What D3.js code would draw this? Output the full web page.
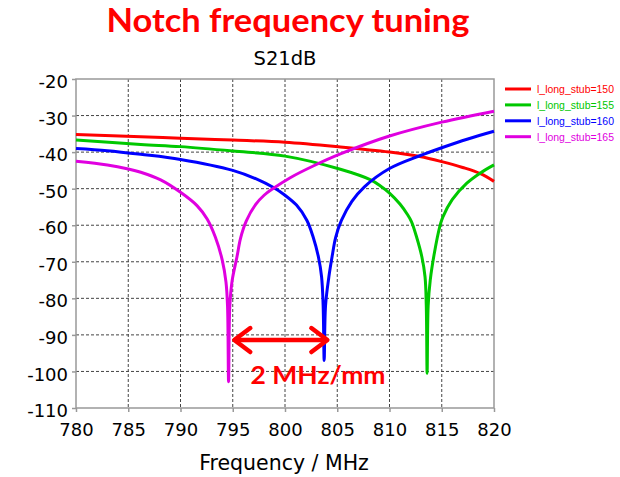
<!DOCTYPE html>
<html>
<head>
<meta charset="utf-8">
<script src="https://cdn.jsdelivr.net/npm/d3@7.9.0/dist/d3.min.js"></script>
<style>
  body { margin: 0; background: #fff; }
  svg { display: block; }
</style>
</head>
<body>
<svg id="chart" width="620" height="477"></svg>
<script>
// S21 in dB vs frequency (MHz)
const seriesNames = ['l_long_stub=150', 'l_long_stub=155', 'l_long_stub=160', 'l_long_stub=165'];
const seriesColors = ['#ff0000', '#00c800', '#0000ff', '#e000e0'];

const freq150 = [780, 786.2, 790, 795, 800, 805.3, 810, 812.9, 815, 817, 818.7, 820];
const s21_150 = [-35.2, -35.8, -36.2, -36.7, -37.3, -38.6, -40.0, -41.2, -42.6, -44.2, -45.9, -48.0];

const freq155 = [780, 786.2, 790, 795, 800, 805.3, 808.2, 809.1, 810, 811, 811.7, 812.1, 812.6, 813.1, 813.4, 813.52, 813.6, 813.7, 813.9, 814.3, 814.8, 815.1, 816.0, 817.4, 818.7, 820];
const s21_155 = [-36.7, -37.9, -38.5, -39.7, -41.1, -44.7, -47.6, -49.2, -51.2, -54.2, -57.0, -59.0, -63.3, -68.7, -74.1, -82.0, -100.5, -82.0, -75.0, -67.5, -60.5, -57.8, -53.0, -48.5, -45.7, -43.5];

const freq160 = [780, 783, 786.2, 790, 795, 797.3, 798.9, 800, 801.1, 802.1, 802.7, 803.2, 803.5, 803.65, 803.75, 803.88, 804.2, 804.5, 804.85, 805.4, 806.4, 807.6, 810, 812.9, 815, 817.5, 820];
const s21_160 = [-39.0, -39.6, -40.6, -42.0, -45.0, -47.4, -49.7, -51.8, -54.5, -58.7, -63.3, -68.7, -74.1, -82.0, -97.0, -82.0, -74.1, -68.7, -63.3, -58.7, -53.5, -49.5, -44.5, -41.0, -38.8, -36.4, -34.3];

const freq165 = [780, 783, 785, 786.2, 788.1, 790, 791.6, 792.55, 793.34, 794.0, 794.35, 794.5, 794.6, 794.72, 794.95, 795.4, 795.75, 796.3, 797.2, 798.0, 798.9, 800.5, 802.7, 805.3, 810, 815, 820];
const s21_165 = [-42.5, -43.5, -44.6, -45.5, -47.6, -51.0, -54.7, -58.3, -63.3, -69.6, -75.5, -82.0, -102.8, -82.0, -75.0, -68.7, -63.5, -58.8, -54.3, -51.8, -49.9, -47.0, -43.8, -40.5, -35.6, -31.8, -28.8];

const xTicks = [780, 785, 790, 795, 800, 805, 810, 815, 820];
const yTicks = [-110, -100, -90, -80, -70, -60, -50, -40, -30, -20];

// annotation: notch spacing arrow
const arrowFreqs = [795.05, 804.15];
const arrowLevel = -91.4;
const arrowLabel = '2 MHz/mm';

const series = [
  {freq: freq150, val: s21_150},
  {freq: freq155, val: s21_155},
  {freq: freq160, val: s21_160},
  {freq: freq165, val: s21_165}
];

const svg = d3.select('#chart');
const plotLeft = 76, plotRight = 494, plotTop = 79, plotBottom = 408;

const x = d3.scaleLinear().domain([780, 820]).range([plotLeft, plotRight]);
const y = d3.scaleLinear().domain([-110, -20]).range([plotBottom, plotTop]);

// grid
svg.append('g')
  .selectAll('line')
  .data(xTicks.slice(1, -1))
  .join('line')
  .attr('x1', d => x(d)).attr('x2', d => x(d))
  .attr('y1', plotTop).attr('y2', plotBottom)
  .attr('stroke', '#444').attr('stroke-width', 1)
  .attr('stroke-dasharray', '3,2');

svg.append('g')
  .selectAll('line')
  .data(yTicks.slice(1, -1))
  .join('line')
  .attr('x1', plotLeft).attr('x2', plotRight)
  .attr('y1', d => y(d)).attr('y2', d => y(d))
  .attr('stroke', '#444').attr('stroke-width', 1)
  .attr('stroke-dasharray', '3,2');

// frame
svg.append('rect')
  .attr('x', plotLeft).attr('y', plotTop)
  .attr('width', plotRight - plotLeft).attr('height', plotBottom - plotTop)
  .attr('fill', 'none').attr('stroke', '#999').attr('stroke-width', 1.5);

// axes
const xAxis = svg.append('g')
  .attr('transform', `translate(0,${plotBottom})`)
  .call(d3.axisBottom(x).tickValues(xTicks).tickSize(4).tickPadding(11).tickFormat(d3.format('d')));
const yAxis = svg.append('g')
  .attr('transform', `translate(${plotLeft},0)`)
  .call(d3.axisLeft(y).tickValues(yTicks).tickSize(4).tickPadding(4).tickFormat(d => d));

[xAxis, yAxis].forEach(g => {
  g.select('.domain').remove();
  g.selectAll('.tick line').attr('stroke', '#999').attr('stroke-width', 1.5);
  g.selectAll('.tick text')
    .attr('fill', '#000')
    .style('font-family', 'DejaVu Sans')
    .style('font-size', '18px');
});
yAxis.selectAll('.tick text').attr('dy', '0.48em');

// curves
const line = d3.line()
  .x(d => x(d[0]))
  .y(d => y(d[1]))
  .curve(d3.curveCatmullRom.alpha(0.5));

series.forEach((s, i) => {
  svg.append('path')
    .datum(d3.zip(s.freq, s.val))
    .attr('d', line)
    .attr('fill', 'none')
    .attr('stroke', seriesColors[i])
    .attr('stroke-width', 3)
    .attr('stroke-linejoin', 'round');
});

// legend
const legend = svg.append('g');
seriesNames.forEach((name, i) => {
  const ly = 89 + i * 15.9;
  legend.append('line')
    .attr('x1', 505).attr('x2', 531)
    .attr('y1', ly).attr('y2', ly)
    .attr('stroke', seriesColors[i]).attr('stroke-width', 3);
  legend.append('text')
    .attr('x', 537).attr('y', ly + 4)
    .attr('fill', seriesColors[i])
    .attr('textLength', 77).attr('lengthAdjust', 'spacingAndGlyphs')
    .style('font-family', 'Liberation Sans')
    .style('font-size', '11px')
    .text(name);
});

// arrow annotation
const ay = y(arrowLevel);
const ax1 = x(arrowFreqs[0]), ax2 = x(arrowFreqs[1]);
const ann = svg.append('g')
  .attr('stroke', '#ff0000').attr('stroke-width', 4.5)
  .attr('fill', 'none').attr('stroke-linecap', 'round').attr('stroke-linejoin', 'round');
ann.append('line').attr('x1', ax1 + 2).attr('x2', ax2 - 2).attr('y1', ay).attr('y2', ay);
ann.append('polyline').attr('points', `${ax1 + 17},${ay - 12} ${ax1 + 1},${ay} ${ax1 + 17},${ay + 12}`);
ann.append('polyline').attr('points', `${ax2 - 17},${ay - 12} ${ax2 - 1},${ay} ${ax2 - 17},${ay + 12}`);

svg.append('text')
  .attr('x', x(796.7)).attr('y', y(-103.4))
  .attr('fill', '#ff0000')
  .attr('textLength', 135).attr('lengthAdjust', 'spacingAndGlyphs')
  .style('font-family', 'Lato')
  .style('font-weight', 'bold')
  .style('font-size', '25px')
  .text(arrowLabel);

// titles
svg.append('text')
  .attr('x', 288).attr('y', 32)
  .attr('text-anchor', 'middle')
  .attr('fill', '#ff0000')
  .attr('textLength', 363).attr('lengthAdjust', 'spacingAndGlyphs')
  .style('font-family', 'Lato')
  .style('font-weight', 'bold')
  .style('font-size', '32px')
  .text('Notch frequency tuning');

svg.append('text')
  .attr('x', 285).attr('y', 65)
  .attr('text-anchor', 'middle')
  .attr('fill', '#000')
  .style('font-family', 'DejaVu Sans')
  .style('font-size', '19.5px')
  .text('S21dB');

svg.append('text')
  .attr('x', 284).attr('y', 470)
  .attr('text-anchor', 'middle')
  .attr('fill', '#000')
  .style('font-family', 'DejaVu Sans')
  .style('font-size', '20.5px')
  .text('Frequency / MHz');
</script>
</body>
</html>
